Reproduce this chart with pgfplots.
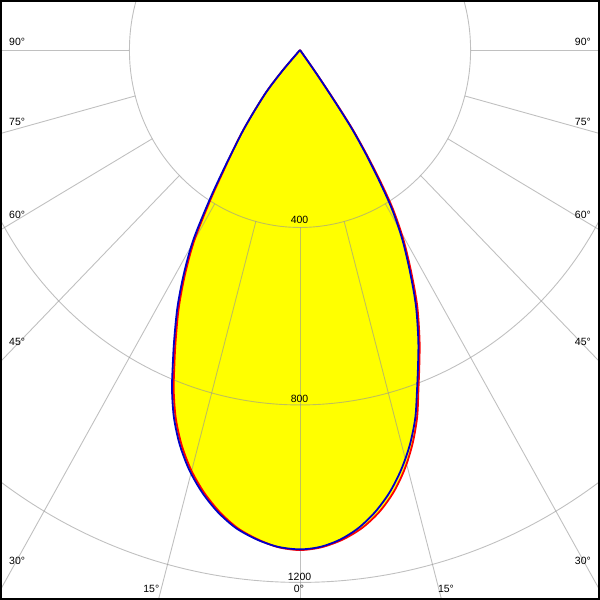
\documentclass[border=0pt]{standalone}
\usepackage{pgfplots}
\pgfplotsset{compat=1.18}
\usepackage{pgfplotstable}
\usepackage{fontspec}
\setmainfont{Liberation Sans}
\definecolor{gridc}{RGB}{150,150,150}
\definecolor{cblue}{RGB}{0,0,200}
\definecolor{cred}{RGB}{255,0,0}
\definecolor{cyel}{RGB}{255,255,0}
\tikzset{
  gridline/.style={gridc, opacity=0.6, line width=0.9pt},
  lab/.style={inner sep=0pt, font=\fontsize{10.5}{12}\selectfont},
}

% gamma (deg, negative = left), intensity (cd)
\pgfplotstableread{
g I
-42.5 0
-41.5 60
-40.0 119
-38.0 172
-36.4 224
-35.0 268
-33.6 325
-32.1 400
-30.3 496
-28.4 572
-26.4 646
-24.3 717
-22.8 770
-21.39 823
-19.63 880
-17.6 933
-15.37 981
-12.98 1023
-10.5 1059
-7.93 1088
-5.23 1108
-2.66 1121
0 1125.5
2.43 1121
4.86 1107.6
7.26 1086
9.61 1056
11.9 1019
14.09 975
16.16 926
18.06 872
19.7 814
21.3 762
23.0 710
25.2 639
27.2 566
29.3 491
31.0 420
32.2 350
33.4 280
34.4 218
34.9 165
35.4 110
36.0 55
36.5 0
}\bluedata

\pgfplotstableread{
g I
-42.5 0
-41.5 60
-40.0 119
-38.0 172
-36.4 224
-35.0 268
-33.4 325
-31.85 400
-30.0 496
-28.1 572
-26.1 646
-24.0 717
-22.5 770
-21.09 823
-19.33 880
-17.3 933
-15.07 981
-12.68 1023
-10.2 1059
-7.68 1088
-5.05 1108
-2.55 1122
0 1127
2.55 1122
5.19 1108
7.76 1086.5
10.21 1056.5
12.5 1019
14.59 975.5
16.56 926
18.36 872
19.95 814
21.55 762
23.22 711
25.45 640
27.45 567
29.55 492
31.28 420
32.48 350
33.6 280
34.6 218
35.1 165
35.55 110
36.1 55
36.6 0
}\reddata

\begin{document}
\begin{tikzpicture}
\begin{axis}[
  width=600pt, height=600pt, scale only axis, hide axis,
  xmin=-703.5, xmax=703.5, ymin=-1239.6, ymax=112.7,
  clip=true,
]
% fills
\addplot[fill=cyel, draw=none, data cs=polar, smooth, tension=0.5]
  table[x expr=\thisrow{g}-90, y=I] {\reddata};
\addplot[fill=cyel, draw=none, data cs=polar, smooth, tension=0.5]
  table[x expr=\thisrow{g}-90, y=I] {\bluedata};
% grid
\draw[gridline] (axis cs:0,0) ellipse [x radius=400, y radius=400];
\draw[gridline] (axis cs:0,0) ellipse [x radius=800, y radius=800];
\draw[gridline] (axis cs:0,0) ellipse [x radius=1200, y radius=1200];
\pgfplotsinvokeforeach{-180,-165,...,0}{
  \addplot[gridline, data cs=polar] coordinates {(#1,400) (#1,2200)};
}
% curves
\addplot[cred, line width=1.8pt, data cs=polar, smooth, tension=0.5]
  table[x expr=\thisrow{g}-90, y=I] {\reddata};
\addplot[cblue, line width=1.8pt, data cs=polar, smooth, tension=0.5]
  table[x expr=\thisrow{g}-90, y=I] {\bluedata};
% frame
\draw[black, line width=4pt] (rel axis cs:0,0) rectangle (rel axis cs:1,1);
% labels
\node[lab, anchor=base west] at (rel axis cs:0.015,0.92333) {90°};
\node[lab, anchor=base west] at (rel axis cs:0.015,0.79) {75°};
\node[lab, anchor=base west] at (rel axis cs:0.015,0.635) {60°};
\node[lab, anchor=base west] at (rel axis cs:0.015,0.42333) {45°};
\node[lab, anchor=base west] at (rel axis cs:0.015,0.058333) {30°};
\node[lab, anchor=base east] at (rel axis cs:0.985,0.92333) {90°};
\node[lab, anchor=base east] at (rel axis cs:0.985,0.79) {75°};
\node[lab, anchor=base east] at (rel axis cs:0.985,0.635) {60°};
\node[lab, anchor=base east] at (rel axis cs:0.985,0.42333) {45°};
\node[lab, anchor=base east] at (rel axis cs:0.985,0.058333) {30°};
\node[lab, anchor=base] at (rel axis cs:0.25217,0.011667) {15°};
\node[lab, anchor=base] at (rel axis cs:0.49833,0.011667) {0°};
\node[lab, anchor=base] at (rel axis cs:0.74333,0.011667) {15°};
\node[lab, anchor=base] at (rel axis cs:0.49917,0.62667) {400};
\node[lab, anchor=base] at (rel axis cs:0.49917,0.32833) {800};
\node[lab, anchor=base] at (rel axis cs:0.49917,0.031667) {1200};
\end{axis}
\pgfresetboundingbox
\useasboundingbox (current axis.south west) rectangle (current axis.north east);
\end{tikzpicture}
\end{document}
